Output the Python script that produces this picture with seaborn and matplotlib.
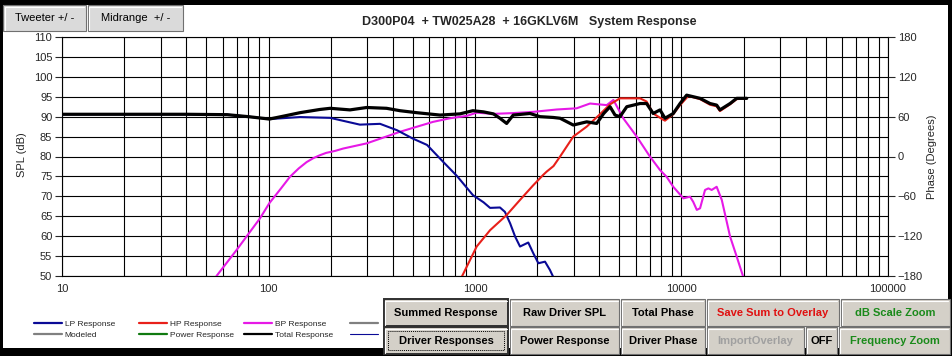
import matplotlib
matplotlib.use("Agg")
import matplotlib.pyplot as plt
import seaborn as sns
import pandas as pd
from matplotlib.patches import Rectangle
from matplotlib.lines import Line2D

# ---- data (freq in Hz, SPL in dB) ----
lp_freq = [10, 20, 40, 63, 80, 101, 142, 199, 277, 347, 419, 500, 586, 700, 818, 977,
           1100, 1183, 1321, 1396, 1480, 1564, 1652, 1811, 1916, 2027, 2183, 2307, 2390]
lp_spl = [90.6, 90.6, 90.6, 90.5, 90.0, 89.4, 89.9, 89.7, 88.0, 88.2, 86.6, 84.5, 82.9, 78.7, 75.1, 70.3,
          68.5, 67.1, 67.2, 66.1, 63.2, 59.9, 57.4, 58.4, 55.7, 53.2, 53.6, 51.5, 49.8]

hp_freq = [863, 1019, 1183, 1423, 1652, 1916, 2141, 2223, 2400, 2583, 2992, 3475, 4027, 4508, 5036,
           6301, 6775, 7294, 8170, 8318, 9120, 9840, 10790, 12300, 13740, 14800, 15350, 17190, 18500, 20700]
hp_spl = [49.8, 57.4, 61.5, 65.3, 69.1, 72.8, 75.4, 76.2, 77.6, 80.0, 85.0, 87.5, 90.6, 93.1, 94.6,
          94.6, 93.8, 90.8, 89.2, 89.0, 90.6, 92.9, 95.2, 94.4, 93.0, 92.6, 91.4, 93.1, 94.4, 94.6]

bp_freq = [56, 70, 91, 101, 115, 127, 140, 153, 165, 177, 190, 210, 230, 299, 433, 627, 757, 912, 1019,
           1228, 1527, 1909, 2489, 3105, 3605, 4343, 4680, 5223, 6070, 7030, 7870, 8470, 9120, 10210,
           11000, 11400, 11860, 12300, 13000, 13500, 14000, 14800, 15670, 17190, 18500, 19900]
bp_spl = [50.0, 56.5, 64.5, 68.3, 72.0, 74.9, 77.0, 78.6, 79.6, 80.3, 80.9, 81.4, 82.0, 83.3, 86.2, 88.7, 89.6,
          90.2, 91.0, 90.7, 90.9, 91.2, 91.8, 92.1, 93.3, 92.9, 94.2, 89.6, 85.0, 80.0, 76.6, 74.9, 72.4, 69.5,
          69.9, 68.6, 66.6, 67.0, 71.6, 72.0, 71.6, 72.4, 69.1, 59.9, 54.9, 49.8]

tot_freq = [10, 20, 40, 63, 80, 101, 120, 142, 177, 199, 248, 299, 373, 433, 522, 677, 845, 977,
            1100, 1228, 1321, 1423, 1531, 1846, 2064, 2393, 2583, 2992, 3475, 3885, 4200, 4508,
            4766, 5036, 5432, 6301, 6775, 7294, 7870, 8318, 9120, 9840, 10590, 12300, 13740,
            14800, 15350, 17190, 18500, 20700]
tot_spl = [90.6, 90.6, 90.6, 90.5, 90.0, 89.4, 90.2, 91.0, 91.8, 92.1, 91.7, 92.3, 92.1, 91.5, 91.0, 90.4, 90.7, 91.5,
           91.2, 90.7, 89.6, 88.3, 90.4, 90.8, 90.0, 89.8, 89.6, 87.9, 88.7, 88.3, 90.8, 92.5,
           90.4, 90.0, 92.5, 93.3, 93.3, 90.8, 91.7, 89.6, 90.8, 93.3, 95.4, 94.6, 93.3,
           92.9, 91.7, 93.3, 94.6, 94.6]

spl_ticks = list(range(50, 111, 5))
phase_ticks = [-180, -120, -60, 0, 60, 120, 180]
freq_ticks = [10, 100, 1000, 10000, 100000]
freq_labels = ["10", "100", "1000", "10000", "100000"]

legend_cols = [
    [("LP Response", "#0a0a96", 1.6), ("Modeled", "#808080", 1.6)],
    [("HP Response", "#e8201a", 1.6), ("Power Response", "#107a10", 1.6)],
    [("BP Response", "#e619e6", 1.6), ("Total Response", "black", 1.6)],
    [(" ", "#808080", 1.6), (" ", "#0a0a96", 0.8)],
]

W, H = 953, 356
sns.set_style("white")
plt.rcParams['font.family'] = ['Liberation Sans', 'DejaVu Sans']

fig = plt.figure(figsize=(W / 100, H / 100), dpi=100, facecolor='black')
fig.add_artist(Rectangle((3 / W, 1 - 348 / H), 945 / W, 343 / H, transform=fig.transFigure,
                         facecolor='white', edgecolor='none', zorder=-5))

ax = fig.add_axes([62 / W, 1 - 276 / H, 826 / W, 239 / H])
ax.set_xscale('log')

sns.lineplot(x=bp_freq, y=bp_spl, ax=ax, color="#e619e6", lw=1.5, zorder=3)
sns.lineplot(x=lp_freq, y=lp_spl, ax=ax, color="#0a0a96", lw=1.5, zorder=4)
sns.lineplot(x=hp_freq, y=hp_spl, ax=ax, color="#e8201a", lw=1.5, zorder=4)
sns.lineplot(x=tot_freq, y=tot_spl, ax=ax, color="black", lw=2.3, zorder=5)

ax.set_xlim(10, 100000)
ax.set_ylim(50, 110)
ax.set_yticks(spl_ticks)
ax.set_xticks(freq_ticks, labels=freq_labels)
ax.grid(which='both', axis='both', color='black', lw=0.8)
ax.tick_params(axis='y', which='major', direction='out', length=5, width=0.8, pad=2, labelsize=8, left=True)
ax.tick_params(axis='x', which='both', length=0, pad=6, labelsize=8)
ax.set_xlabel("")
ax.set_ylabel("")
for s in ax.spines.values():
    s.set_color('black')
    s.set_linewidth(0.8)

ax2 = ax.twinx()
ax2.set_ylim(-180, 180)
ax2.set_yticks(phase_ticks)
ax2.tick_params(axis='y', direction='out', length=5, width=0.8, pad=2, labelsize=8, right=True)
for s in ax2.spines.values():
    s.set_visible(False)

fig.text(22 / W, 1 - 155 / H, "SPL (dB)", rotation=90, ha='center', va='center', fontsize=8)
fig.text(932 / W, 1 - 157 / H, "Phase (Degrees)", rotation=90, ha='center', va='center', fontsize=8)
fig.text(529 / W, 1 - 22 / H, "D300P04  + TW025A28  + 16GKLV6M   System Response",
         ha='center', va='center', fontsize=9, fontweight='bold',
         family=['Liberation Sans Narrow', 'Liberation Sans'])

# legend, one block per column
for i, col in enumerate(legend_cols):
    handles = [Line2D([], [], color=c, lw=w) for _, c, w in col]
    labels = [t for t, _, _ in col]
    fig.legend(handles, labels, loc='center left',
               bbox_to_anchor=([34, 139, 244, 350][i] / W, 1 - 329.5 / H),
               frameon=False, fontsize=6, handlelength=3.4, handletextpad=0.3,
               labelspacing=0.35, borderpad=0, borderaxespad=0)


def button(x0, y0, x1, y1, text, color='black', dotted=False, heavy=False, face='#d4d0c8', size=8, weight='bold'):
    fig.add_artist(Rectangle((x0 / W, 1 - y1 / H), (x1 - x0) / W, (y1 - y0) / H,
                             transform=fig.transFigure, facecolor=face,
                             edgecolor='#303030' if heavy else '#707070', lw=1.4 if heavy else 0.8))
    fig.add_artist(Line2D([(x0 + 1.5) / W, (x0 + 1.5) / W, (x1 - 1.5) / W],
                          [1 - (y1 - 1.5) / H, 1 - (y0 + 1.5) / H, 1 - (y0 + 1.5) / H],
                          transform=fig.transFigure, color='white', lw=0.8))
    if dotted:
        fig.add_artist(Rectangle(((x0 + 4) / W, 1 - (y1 - 4) / H), (x1 - x0 - 8) / W, (y1 - y0 - 8) / H,
                                 transform=fig.transFigure, facecolor='none', edgecolor='black',
                                 lw=0.7, ls=(0, (1, 1))))
    fig.text((x0 + x1) / 2 / W, 1 - (y0 + y1) / 2 / H, text, ha='center', va='center',
             fontsize=size, fontweight=weight, color=color)


button(3, 5, 86, 31, "Tweeter +/ -", face='#dadada', weight='normal')
button(88, 5, 183, 31, "Midrange  +/ -", face='#dadada', weight='normal')

button(384, 299, 508, 326, "Summed Response", heavy=True)
button(510, 299, 619, 326, "Raw Driver SPL")
button(621, 299, 705, 326, "Total Phase")
button(707, 299, 839, 326, "Save Sum to Overlay", color='#e01010')
button(841, 299, 950, 326, "dB Scale Zoom", color='#1a8a1a')
button(384, 327, 508, 354, "Driver Responses", heavy=True, dotted=True)
button(510, 327, 619, 354, "Power Response")
button(621, 327, 705, 354, "Driver Phase")
button(707, 327, 804, 354, "ImportOverlay", color='#a0a0a0')
button(806, 327, 837, 354, "OFF")
button(839, 327, 950, 354, "Frequency Zoom", color='#1a8a1a')

fig.savefig("out.png", dpi=100, facecolor=fig.get_facecolor())
